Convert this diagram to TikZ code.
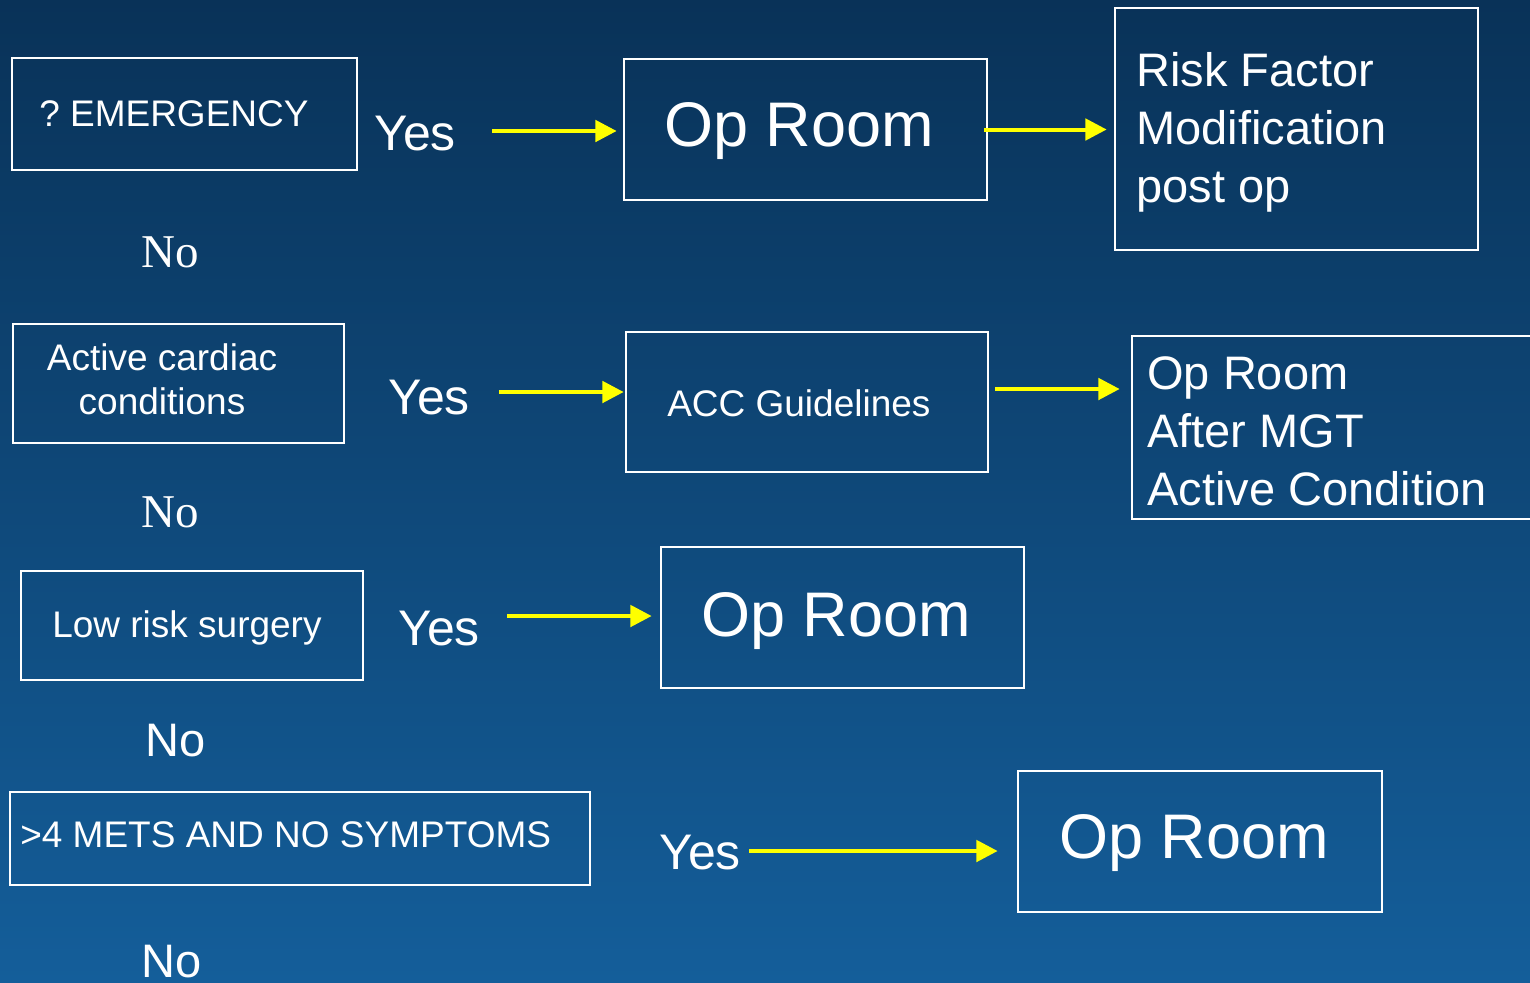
\documentclass[tikz,border=0pt]{standalone}
\usepackage{fontspec}
\setmainfont{Liberation Sans}
\newfontfamily\serifno{Liberation Serif}
\usetikzlibrary{arrows.meta}
\frenchspacing
\definecolor{bgtop}{RGB}{9,50,88}
\definecolor{bgbot}{RGB}{20,94,154}
\definecolor{arrowyellow}{RGB}{255,255,0}
\newcommand{\fsmall}{\fontsize{27.75}{33}\selectfont}
\newcommand{\fmid}{\fontsize{35.25}{43.5}\selectfont}
\newcommand{\fyes}{\fontsize{37.5}{43.5}\selectfont}
\newcommand{\fbig}{\fontsize{47.25}{56}\selectfont}
\tikzset{
  bx/.style 2 args={draw=white, line width=2pt, minimum width=#1*0.75pt, minimum height=#2*0.75pt, inner sep=0pt},
  txt/.style={text=white, inner sep=0pt, anchor=base west},
  arr/.style={draw=arrowyellow, line width=3pt, -{Triangle[length=16pt,width=16pt]}},
}
\begin{document}
\begin{tikzpicture}[x=0.75pt,y=-0.75pt]
\useasboundingbox (0,0) rectangle (1530,982);
\shade[top color=bgtop, bottom color=bgbot] (0,0) rectangle (1530,982);

% boxes
\node[bx={345}{112}] (emerg) at (184.5,114) {};
\node[bx={363}{141}] (op1) at (805.5,129.5) {};
\node[bx={363}{242}] (rf) at (1296.5,129) {};
\node[bx={331}{119}] (acc0) at (178.5,383.5) {};
\node[bx={362}{140}] (acc) at (807,402) {};
\node[bx={413}{183}] (op2) at (1338.5,427.5) {};
\node[bx={342}{109}] (low) at (192,625.5) {};
\node[bx={363}{141}] (op3) at (842.5,617.5) {};
\node[bx={580}{93}] (mets) at (300,838.5) {};
\node[bx={364}{141}] (op4) at (1200,841.5) {};

% texts (multi-line nodes: base anchor is the last line)
\node[txt, font=\fsmall] (temerg) at (39,126) {? EMERGENCY};
\node[txt, font=\fyes] (yes1) at (374,150) {Yes};
\node[txt, font=\fbig] (top1) at (664,146) {Op Room};
\node[txt, font=\fmid, align=left] (trf) at (1136,202) {Risk Factor\\Modification\\post op};
\node[txt, font=\fmid\serifno] (no1) at (141,267) {No};

\node[text=white, inner sep=0pt, anchor=base, align=center, font=\fsmall] (tacc0) at (162,414) {Active cardiac\\conditions};
\node[txt, font=\fyes] (yes2) at (388,414) {Yes};
\node[txt, font=\fsmall] (tacc) at (667,416) {ACC Guidelines};
\node[txt, font=\fmid, align=left] (top2) at (1147,505) {Op Room\\After MGT\\Active Condition};
\node[txt, font=\fmid\serifno] (no2) at (141,527) {No};

\node[txt, font=\fsmall] (tlow) at (52,637) {Low risk surgery};
\node[txt, font=\fyes] (yes3) at (398,645) {Yes};
\node[txt, font=\fbig] (top3) at (701,636) {Op Room};
\node[txt, font=\fmid] (no3) at (145,756) {No};

\node[txt, font=\fsmall] (tmets) at (20,847) {>4 METS AND NO SYMPTOMS};
\node[txt, font=\fyes] (yes4) at (659,869) {Yes};
\node[txt, font=\fbig] (top4) at (1059,858) {Op Room};
\node[txt, font=\fmid] (no4) at (141,977) {No};

% connectors
\coordinate (a1s) at (492,131);
\coordinate (a3s) at (499,392);
\coordinate (a4s) at (995,389);
\coordinate (a5s) at (507,616);
\coordinate (a6s) at (749,851);
\draw[arr, shorten >=4.5pt] (a1s) -- (a1s -| op1.west);
\draw[arr, shorten <=-3pt, shorten >=5.25pt] (op1.east) -- (op1.east -| rf.west);
\draw[arr, shorten >=0.75pt] (a3s) -- (a3s -| acc.west);
\draw[arr, shorten >=8.25pt] (a4s) -- (a4s -| op2.west);
\draw[arr, shorten >=6pt] (a5s) -- (a5s -| op3.west);
\draw[arr, shorten >=14.25pt] (a6s) -- (a6s -| op4.west);
\end{tikzpicture}
\end{document}
